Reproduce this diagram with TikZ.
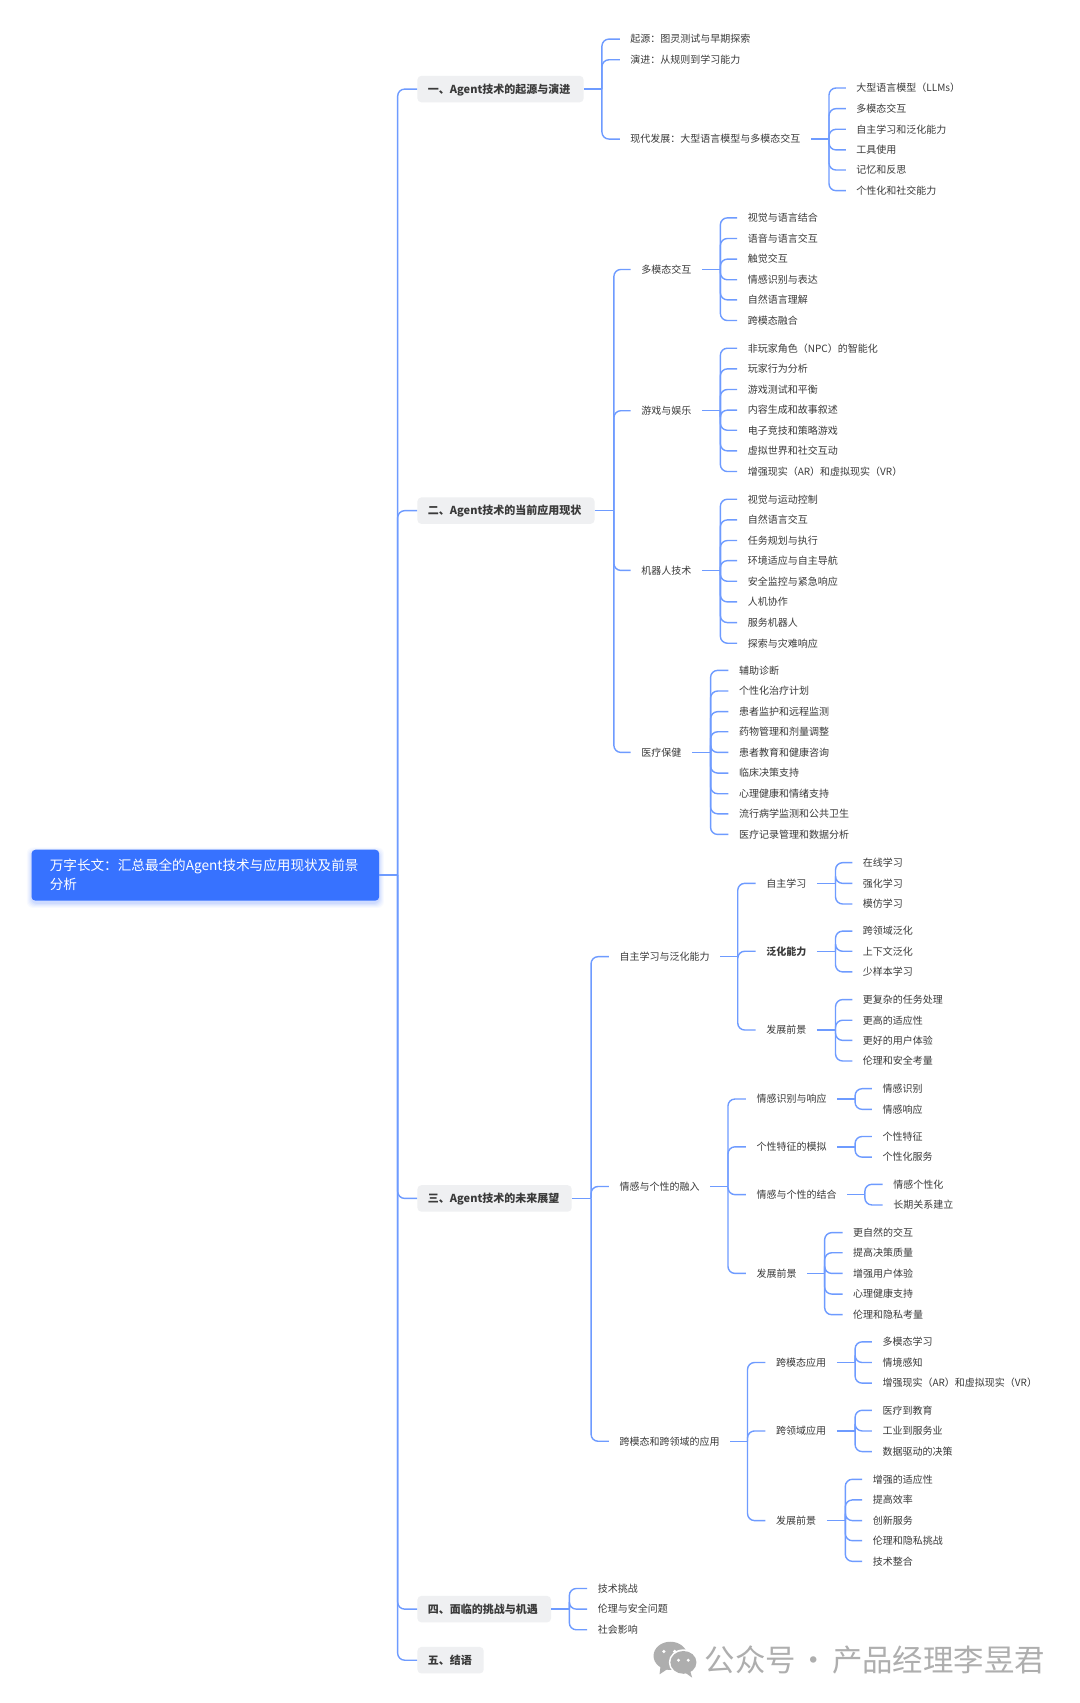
\documentclass[tikz,border=0pt]{standalone}
\usepackage{fontspec}
\setmainfont{Noto Sans CJK SC}
\usetikzlibrary{backgrounds}
\definecolor{linkc}{HTML}{6E9BFF}
\definecolor{rootc}{HTML}{3772FF}
\definecolor{topicc}{HTML}{EFF0F2}
\definecolor{textc}{HTML}{3A3A3A}
\definecolor{wmc}{HTML}{AEAEAE}
\tikzset{
 x=1.08652pt,y=-1.08652pt,
 link/.style={draw=linkc,line width=1.4pt,rounded corners=7pt},
 leaf/.style={anchor=west,xshift=-11.5pt,inner xsep=10.5pt,inner ysep=0pt,text height=8.8pt,text depth=1.2pt,text=textc,font=\fontsize{10}{12}\selectfont},
 topic/.style={anchor=west,fill=topicc,rounded corners=4pt,inner xsep=10.5pt,inner ysep=0pt,minimum height=26.5pt,text height=9.7pt,text depth=1.3pt,text=textc,font=\fontsize{11}{13}\selectfont\bfseries},
 rootbox/.style={fill=rootc,rounded corners=4pt,inner xsep=18.3pt,inner ysep=0pt,minimum height=51pt,text width=311.1pt,align=left,text=white,font=\fontsize{13.6}{19}\selectfont},
 mark wm/.style={anchor=west,inner sep=0pt,text=wmc,font=\fontsize{30.4}{34}\selectfont},
}
\newcommand\kids[4]{%
 \coordinate (tk#1) at (#2,0);
 \draw[link] (#1.east) -- (#1.east -| tk#1);
 \foreach \yy/\lbl [count=\i] in {#4} {
  \node[leaf] (#1-\i) at (#3,\yy) {\lbl};
  \draw[link] (#1.east -| tk#1) |- (#1-\i.west);
 }%
}
\newcommand\topicnode[4]{\node[topic] (#1) at (384,#2) {\makebox[#3pt][l]{#4}};}
\begin{document}
\begin{tikzpicture}
\useasboundingbox (0,0) rectangle (994,1567.4);
% root
\node[rootbox] (root) at (189,805.5) {万字长文：汇总最全的Agent技术与应用现状及前景\\分析};
\begin{pgfonlayer}{background}
 \fill[white] (0,0) rectangle (994,1567.4);
 \foreach \s/\o in {4.5/.03,3.5/.04,2.5/.05,1.5/.06,0.5/.08}
  \fill[rootc,opacity=\o,rounded corners=6pt] ([shift={(-\s pt,-\s pt-2.5pt)}]root.south west) rectangle ([shift={(\s pt,\s pt-2.5pt)}]root.north east);
\end{pgfonlayer}
% topics
\topicnode{t1}{82}{145.2}{一、Agent技术的起源与演进}
\topicnode{t2}{470}{156.1}{二、Agent技术的当前应用现状}
\topicnode{t3}{1103}{133.3}{三、Agent技术的未来展望}
\topicnode{t4}{1481}{112.6}{四、面临的挑战与机遇}
\topicnode{t5}{1528}{45.3}{五、结语}
\coordinate (tkroot) at (366,0);
\draw[link] (root.east) -- (root.east -| tkroot);
\foreach \t in {t1,t2,t3,t4,t5} \draw[link] (root.east -| tkroot) |- (\t.west);
% 一
\kids{t1}{554}{581}{36/起源：图灵测试与早期探索,55/演进：从规则到学习能力,128/现代发展：大型语言模型与多模态交互}
\kids{t1-3}{763}{789}{81/大型语言模型（LLMs）,100/多模态交互,119/自主学习和泛化能力,138/工具使用,156.5/记忆和反思,175.5/个性化和社交能力}
% 二
\kids{t2}{565}{591}{248/多模态交互,378/游戏与娱乐,525/机器人技术,692.5/医疗保健}
\kids{t2-1}{663}{689}{200.5/视觉与语言结合,219.5/语音与语言交互,238.5/触觉交互,257.5/情感识别与表达,276/自然语言理解,295/跨模态融合}
\kids{t2-2}{663}{689}{320.5/非玩家角色（NPC）的智能化,339.5/玩家行为分析,358.5/游戏测试和平衡,377.5/内容生成和故事叙述,396/电子竞技和策略游戏,415/虚拟世界和社交互动,434/增强现实（AR）和虚拟现实（VR）}
\kids{t2-3}{663}{689}{459.5/视觉与运动控制,478.5/自然语言交互,497.5/任务规划与执行,516/环境适应与自主导航,535/安全监控与紧急响应,554/人机协作,573/服务机器人,592/探索与灾难响应}
\kids{t2-4}{654}{681}{617/辅助诊断,636/个性化治疗计划,655/患者监护和远程监测,673.5/药物管理和剂量调整,692.5/患者教育和健康咨询,711.5/临床决策支持,730.5/心理健康和情绪支持,749/流行病学监测和公共卫生,768/医疗记录管理和数据分析}
% 三
\kids{t3}{544}{571}{880.5/自主学习与泛化能力,1092/情感与个性的融入,1326.5/跨模态和跨领域的应用}
\kids{t3-1}{679}{706}{813/自主学习,875.5/\textbf{泛化能力},948/发展前景}
\kids{t3-1-1}{769}{795}{794/在线学习,813/强化学习,832/模仿学习}
\kids{t3-1-2}{769}{795}{857/跨领域泛化,875.5/上下文泛化,894.5/少样本学习}
\kids{t3-1-3}{769}{795}{920/更复杂的任务处理,939/更高的适应性,957.5/更好的用户体验,976.5/伦理和安全考量}
\kids{t3-2}{670}{697}{1011.5/情感识别与响应,1055.5/个性特征的模拟,1099.5/情感与个性的结合,1172/发展前景}
\kids{t3-2-1}{787}{813}{1002/情感识别,1021/情感响应}
\kids{t3-2-2}{787}{813}{1046/个性特征,1065/个性化服务}
\kids{t3-2-3}{796}{823}{1090/情感个性化,1109/长期关系建立}
\kids{t3-2-4}{759}{786}{1134.5/更自然的交互,1153/提高决策质量,1172/增强用户体验,1191/心理健康支持,1210/伦理和隐私考量}
\kids{t3-3}{688}{715}{1254/跨模态应用,1317/跨领域应用,1399.5/发展前景}
\kids{t3-3-1}{787}{813}{1235/多模态学习,1254/情境感知,1273/增强现实（AR）和虚拟现实（VR）}
\kids{t3-3-2}{787}{813}{1298/医疗到教育,1317/工业到服务业,1336/数据驱动的决策}
\kids{t3-3-3}{778}{804}{1361.5/增强的适应性,1380.5/提高效率,1399.5/创新服务,1418/伦理和隐私挑战,1437/技术整合}
% 四
\kids{t4}{524}{551}{1462/技术挑战,1481/伦理与安全问题,1500/社会影响}
% watermark
\fill[wmc] (617,1524) ellipse [x radius=15.5,y radius=13];
\fill[wmc] (608,1533) -- (607,1541) -- (616,1535) -- cycle;
\fill[white] (629,1530) ellipse [x radius=13.5,y radius=12];
\fill[wmc] (629,1530) ellipse [x radius=12,y radius=10.5];
\fill[wmc] (635,1537) -- (637,1544) -- (630,1539) -- cycle;
\fill[white] (611,1520) circle (1.7) (621,1520) circle (1.7) (624.5,1528) circle (1.5) (633.5,1528) circle (1.5);
\node[mark wm] (wm) at (648.5,1528) {公众号\makebox[36pt][c]{·}产品经理李昱君};
\end{tikzpicture}
\end{document}
